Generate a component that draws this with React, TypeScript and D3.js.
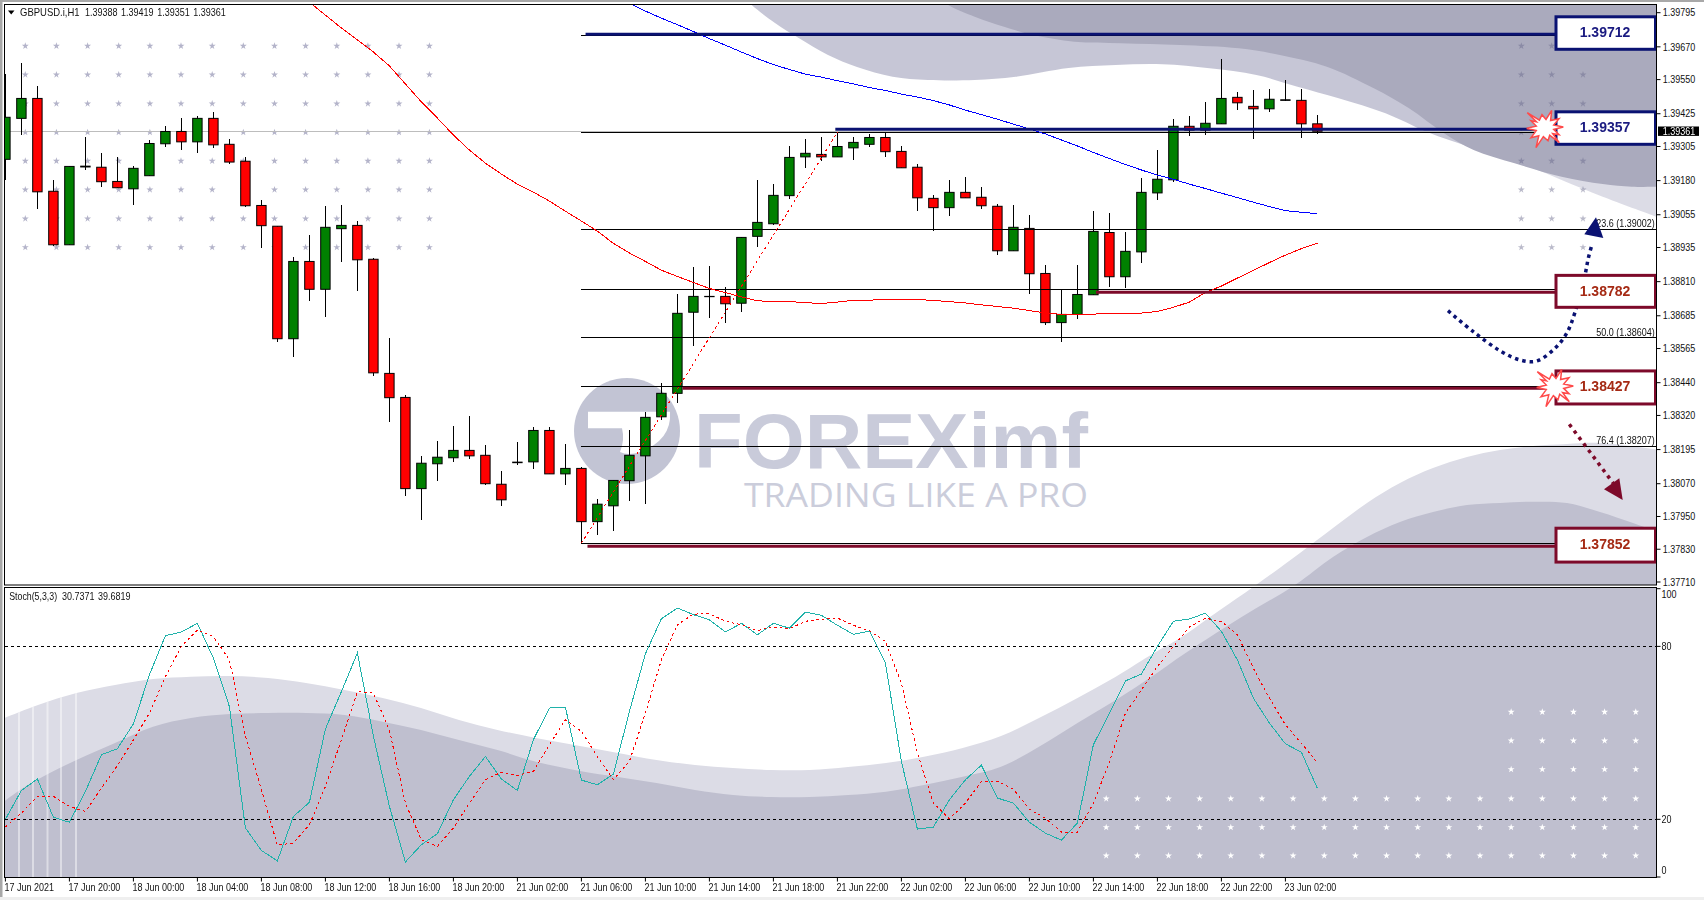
import React from 'react';
import * as d3 from 'd3';

const opens = [1.39258,1.39408,1.39481,1.39141,1.38945,1.39233,1.39229,1.39177,1.39150,1.39198,
1.39315,1.39360,1.39322,1.39408,1.39313,1.39251,1.39089,1.39013,1.38601,1.38884,
1.38782,1.39004,1.39016,1.38892,1.38474,1.38386,1.38052,1.38143,1.38165,1.38192,
1.38174,1.38068,1.38149,1.38150,1.38265,1.38106,1.38126,1.37931,1.37989,1.38081,
1.38172,1.38315,1.38401,1.38698,1.38756,1.38756,1.38731,1.38976,1.39022,1.39125,
1.39267,1.39276,1.39267,1.39300,1.39313,1.39338,1.39287,1.39229,1.39115,1.39081,
1.39137,1.39119,1.39086,1.38923,1.39005,1.38840,1.38660,1.38690,1.38762,1.38990,
1.38828,1.38919,1.39135,1.39183,1.39379,1.39365,1.39388,1.39485,1.39452,1.39443,
1.39476,1.39474,1.39388];
const highs = [1.39570,1.39610,1.39526,1.39182,1.39232,1.39340,1.39281,1.39266,1.39232,1.39329,
1.39380,1.39409,1.39415,1.39430,1.39332,1.39266,1.39109,1.39013,1.38900,1.38981,
1.39087,1.39091,1.39032,1.38895,1.38603,1.38395,1.38171,1.38226,1.38281,1.38318,
1.38212,1.38116,1.38223,1.38277,1.38277,1.38215,1.38131,1.38013,1.38082,1.38267,
1.38331,1.38438,1.38765,1.38863,1.38867,1.38790,1.38972,1.39182,1.39167,1.39307,
1.39332,1.39340,1.39358,1.39340,1.39351,1.39358,1.39307,1.39241,1.39127,1.39182,
1.39193,1.39156,1.39094,1.39091,1.39054,1.38871,1.38782,1.38871,1.39068,1.39061,
1.38992,1.39189,1.39292,1.39405,1.39416,1.39468,1.39625,1.39504,1.39512,1.39515,
1.39548,1.39515,1.39419];
const lows = [1.39182,1.39347,1.39076,1.38941,1.38945,1.39219,1.39156,1.39153,1.39091,1.39198,
1.39303,1.39292,1.39281,1.39299,1.39241,1.39083,1.38933,1.38590,1.38534,1.38739,
1.38681,1.38883,1.38777,1.38464,1.38296,1.38025,1.37937,1.38080,1.38149,1.38160,
1.38065,1.37988,1.38138,1.38124,1.38106,1.38065,1.37852,1.37882,1.37897,1.38008,
1.37996,1.38303,1.38367,1.38574,1.38677,1.38657,1.38700,1.38938,1.39018,1.39114,
1.39226,1.39253,1.39267,1.39255,1.39303,1.39266,1.39227,1.39068,1.38996,1.39050,
1.39117,1.39077,1.38907,1.38923,1.38765,1.38651,1.38590,1.38673,1.38762,1.38790,
1.38786,1.38878,1.39109,1.39175,1.39343,1.39347,1.39388,1.39438,1.39332,1.39431,
1.39472,1.39336,1.39351];
const closes = [1.39412,1.39481,1.39139,1.38945,1.39232,1.39230,1.39176,1.39154,1.39225,1.39316,
1.39360,1.39322,1.39408,1.39311,1.39248,1.39088,1.39015,1.38601,1.38884,1.38782,
1.39009,1.39016,1.38890,1.38476,1.38385,1.38052,1.38145,1.38167,1.38192,1.38172,
1.38070,1.38011,1.38147,1.38265,1.38106,1.38126,1.37931,1.37995,1.38082,1.38174,
1.38313,1.38401,1.38694,1.38756,1.38755,1.38729,1.38972,1.39027,1.39126,1.39265,
1.39280,1.39267,1.39305,1.39320,1.39338,1.39286,1.39227,1.39117,1.39081,1.39137,
1.39117,1.39088,1.38923,1.39009,1.38839,1.38660,1.38690,1.38763,1.38994,1.38828,
1.38921,1.39137,1.39185,1.39379,1.39365,1.39390,1.39481,1.39465,1.39443,1.39478,
1.39474,1.39388,1.39361];

const redMAStart = 19;
const redMA = [1.39834,1.39786,1.39739,1.39695,1.39651,1.39600,1.39534,1.39468,1.39409,1.39347,
1.39292,1.39244,1.39204,1.39167,1.39138,1.39105,1.39068,1.39032,1.38995,1.38950,
1.38915,1.38884,1.38852,1.38829,1.38807,1.38785,1.38770,1.38754,1.38740,1.38737,
1.38737,1.38733,1.38730,1.38735,1.38742,1.38742,1.38745,1.38745,1.38745,1.38741,
1.38737,1.38732,1.38725,1.38719,1.38713,1.38704,1.38695,1.38690,1.38690,1.38691,
1.38694,1.38694,1.38695,1.38701,1.38716,1.38735,1.38770,1.38794,1.38823,1.38851,
1.38880,1.38907,1.38931,1.38951];
const blueMAStart = 39;
const blueMA = [1.39830,1.39801,1.39775,1.39751,1.39726,1.39700,1.39676,1.39651,1.39627,1.39605,
1.39587,1.39570,1.39559,1.39546,1.39534,1.39521,1.39510,1.39497,1.39486,1.39473,
1.39457,1.39438,1.39422,1.39405,1.39387,1.39369,1.39351,1.39329,1.39307,1.39283,
1.39261,1.39239,1.39219,1.39200,1.39185,1.39167,1.39151,1.39134,1.39118,1.39101,
1.39085,1.39070,1.39064,1.39059];

const stochK = [20,30,34,20.7,19,29.7,42.4,44.5,53.1,70.1,83.7,85,88,75.9,59.1,17,9.2,5.6,21,25.9,
51.3,64.3,77.7,48.8,24.5,5.2,11.2,15,26.8,34.9,41.8,34,30,47.6,58.6,58.9,33.6,32,35.7,57.4,
77.4,89.6,93.3,91,89.2,85,88,84,88,86.3,91.9,90.8,87.3,84.2,85.3,74.2,40.1,16.6,17.3,26.8,
33.7,38.8,27.4,25.6,19,15.2,12.8,18.7,45.9,56.8,68,70.4,80,88.7,89.5,91.5,85.2,75.3,62,53.4,
46.2,43.3,30.7371];
const stochD = [17.3,22.2,28,28,24.5,22.7,30.8,38.6,47.6,56.8,69.5,80,85.7,83.4,75.3,48.8,30.3,11,11.8,18.1,
31.4,47.6,64.3,63.8,51,25.6,12.9,10.6,17,25.6,33.7,36.4,35.2,36.6,45.9,54.5,50.5,41.8,33.7,40.1,
56.8,75.3,87.5,91.2,91.3,88.7,87.5,85.5,86.7,86.1,88.7,89.4,89.8,87.3,85.4,81.7,67.2,43,25.6,20.2,
25.6,33.1,33.2,30.5,23.5,20.4,15.6,15.6,25.6,40,56.8,64.9,73,80,86.7,89.8,88.6,84,72.4,62,
52.8,46.4,39.6819];

const priceTicks = [1.39795,1.3967,1.3955,1.39425,1.39305,1.3918,1.39055,1.38935,1.3881,1.38685,1.38565,1.3844,1.3832,1.38195,1.3807,1.3795,1.3783,1.3771];
const stochTicks = [100,80,20,0];
const timeLabels = ['17 Jun 2021','17 Jun 20:00','18 Jun 00:00','18 Jun 04:00','18 Jun 08:00','18 Jun 12:00','18 Jun 16:00','18 Jun 20:00','21 Jun 02:00','21 Jun 06:00','21 Jun 10:00','21 Jun 14:00','21 Jun 18:00','21 Jun 22:00','22 Jun 02:00','22 Jun 06:00','22 Jun 10:00','22 Jun 14:00','22 Jun 18:00','22 Jun 22:00','23 Jun 02:00'];

const fibStartBar = 36, fibEndBar = 52;
const fibLevels = [1.39712,1.39357,1.39002,1.38782,1.38604,1.38427,1.38207,1.37852];
const fibTexts = [['23.6 (1.39002)',1.39002],['50.0 (1.38604)',1.38604],['76.4 (1.38207)',1.38207]] as [string,number][];
const thickPrices = [1.39716,1.39368,1.38771,1.3842,1.37841];
const thickStarts = [36.26,51.87,68.16,42.33,36.38];
const thickGroup = ['b','b','r','r','r'];
const boxLabels = ['1.39712','1.39357','1.38782','1.38427','1.37852'];
const boxTops = [1.39780,1.39432,1.38833,1.38483,1.37907];
const boxBottoms = [1.39661,1.39313,1.38716,1.38362,1.37783];
const boxTextPrices = [1.39725,1.39377,1.38777,1.38427,1.37849];

const topLightEdge = [[745,-2],[751.7,5],[775,23],[798.7,38],[828,55],[857,67],[892.6,76.7],[927.8,80],[974.7,80],[1015.8,76.7],[1068.6,68],[1115.6,65],[1162.5,64.3],[1209.5,68.3],[1256.4,75],[1297.5,86.7],[1338.6,98.3],[1385.5,113.3],[1426.6,131.7],[1473.6,148.3],[1520.5,163.3],[1561.6,180],[1602.7,196.7],[1660,218]];
const topDarkEdge = [[940,-2],[948.3,5],[974.7,16.7],[1004,26.7],[1033.4,35],[1074.5,41.7],[1121.5,43.3],[1180,45],[1238.8,48.3],[1279.9,55],[1326.8,66.7],[1373.8,88.3],[1409,108.3],[1444,133.3],[1473.6,150],[1514.6,163.3],[1561.6,176.7],[1602.7,184],[1632,186.7],[1660,186.7]];
const lowLightEdge = [[2,719],[38,705],[76.5,693],[115,685],[153,679],[191,676.7],[229.6,676],[268,678],[306,683],[344.4,690],[382.7,698],[421,708],[459,720],[497.5,730],[535.8,738],[580,746],[618,753],[656.5,760],[695,765],[733,768],[771,770],[809.6,770],[848,767],[886,763],[924,756.7],[962.7,748],[1001,736],[1039,718],[1077.5,698],[1115.8,676.7],[1154,653],[1180,638],[1220,610],[1256,585],[1300,553],[1333,528],[1367,503],[1400,483],[1433,468],[1467,457],[1500,450],[1533,446],[1567,444],[1600,443],[1660,450]];
const lowDarkEdge = [[2,803],[23,788],[46,775],[76.5,760],[115,743],[153,726.7],[191,718],[229.6,714],[268,713],[306,713],[344.4,715],[382.7,721.7],[421,730],[459,740],[497.5,750],[535.8,761.7],[580,771],[618,777],[656.5,783],[695,790],[733,795],[771,797],[809.6,797],[848,795],[886,791.7],[924,785],[962.7,776.7],[1001,766.7],[1039,746.7],[1077.5,723],[1115.8,700],[1154,675],[1180,656.7],[1240,618],[1295,585],[1333,557],[1367,537],[1400,522],[1433,512],[1467,505],[1500,503],[1533,501.7],[1567,503],[1600,512],[1633,523],[1660,533]];
const stripeXs = [19,33,47.5,61,76];
const leftDotXs = [25.3,56.4,87.6,118.7,149.9,181,212.2,243.3,274.5,305.6,336.8,367.9,399,429.4];
const mainDotYs = [46,74.7,103.7,132.3,161,189.7,218.7,247.3];
const rightDotXs = [1521.3,1551.7,1583];
const whiteDotXs = d3.range(18).map(i => 1106.2 + i * 31.15);
const whiteDotYs = [798.7,827.3,855.7];
const whiteDotUpperYs = [712,740.7,769.4];

const blueArrowPts = [[1448,310.7],[1473.3,331.7],[1500,350.7],[1520,360],[1536.7,361],[1555,348.3],[1566.7,333.3],[1575,312.3],[1585,275],[1588.3,258.3],[1592.3,243.3]];
const blueHead = [[1596,217.3],[1584.3,234.3],[1603.3,238]];
const redArrowPts = [[1569.3,424.3],[1613.3,483.3]];
const redHead = [[1622.7,500],[1604,489.3],[1619.3,478.3]];
const starCentres = [[1545,127.7],[1555,386.7]];
const starSpikes = [[-17.7,-15],[-3,-13],[6.7,-17.3],[14,-9],[18.3,-0.7],[14,7],[14.3,15],[3,13],[-9,20],[-14,10],[-18.3,0.7],[-14,-7]];

const LEFT = 4.5, RIGHT = 1656.5, M_TOP = 4.5, M_BOT = 585, S_TOP = 587.5, S_BOT = 877.5;
const NAVY = '#0a1272', WINE = '#7d0a2a';
const x = d3.scaleLinear().domain([0, 82]).range([5.4, 1317.4]);
const y = d3.scaleLinear().domain([1.3771, 1.39795]).range([582, 12.7]);
const ys = d3.scaleLinear().domain([0, 100]).range([877, 588.7]);

const T = ({ px, py, children, fill = '#111', size = 10, anchor = 'start', sx = 0.9, weight = 'normal', family = "'Liberation Sans', Arial, sans-serif" }: any) => (
  <text transform={`translate(${px},${py}) scale(${sx},1)`} fontFamily={family} fontSize={size} fill={fill} textAnchor={anchor} fontWeight={weight} dominantBaseline="central">{children}</text>
);

const lineOf = (vals: number[], start: number, sc: any) =>
  d3.line<number>().x((_, i) => x(i + start)).y(v => sc(v))(vals) as string;
const smooth = d3.line().curve(d3.curveCatmullRom.alpha(0.5));
const poly = (p: number[][]) => 'M' + p.map(q => q.join(',')).join('L') + 'Z';
const starPath = d3.symbol().type(d3.symbolStar);
const regionTop = (e: number[][]) => (smooth(e as any) as string) + `L1660,-2L${e[0][0]},-2Z`;
const regionBottom = (e: number[][]) => (smooth(e as any) as string) + `L1660,${S_BOT}L2,${S_BOT}Z`;

const burst = (c: number[]) => {
  const pts: number[][] = [];
  starSpikes.forEach((s, i) => {
    const n = starSpikes[(i + 1) % starSpikes.length];
    pts.push([c[0] + s[0], c[1] + s[1]]);
    pts.push([c[0] + (s[0] + n[0]) * 0.27, c[1] + (s[1] + n[1]) * 0.27]);
  });
  return poly(pts);
};

export default function App() {
  const dot = starPath.size(15)() as string;
  return (
    <svg width={1704} height={900} viewBox="0 0 1704 900" style={{ position: 'absolute', left: 0, top: 0, display: 'block' }}>
      <defs>
        <clipPath id="mainClip"><rect x={LEFT} y={M_TOP} width={RIGHT - LEFT} height={M_BOT - M_TOP} /></clipPath>
        <clipPath id="stochClip"><rect x={LEFT} y={S_TOP} width={RIGHT - LEFT} height={S_BOT - S_TOP} /></clipPath>
        <clipPath id="lowClip"><path d={regionBottom(lowLightEdge)} /></clipPath>
        <filter id="soft" x="-5%" y="-5%" width="110%" height="110%"><feGaussianBlur stdDeviation="0.6" /></filter>
        <linearGradient id="topBand" gradientUnits="userSpaceOnUse" x1={1450} y1={0} x2={1500} y2={0}>
          <stop offset="0" stopColor="#c6c6d6" /><stop offset="1" stopColor="#dcdce6" />
        </linearGradient>
      </defs>
      <rect width={1704} height={900} fill="#fff" />
      <rect x={0} y={0} width={1704} height={2} fill="#a8a8a8" />
      <rect x={0} y={0} width={2.5} height={900} fill="#a8a8a8" />
      <rect x={0} y={897} width={1704} height={3} fill="#efefef" />

      {/* background artwork */}
      <g clipPath="url(#mainClip)">
        <path d={regionTop(topLightEdge)} fill="url(#topBand)" />
        <path d={regionTop(topDarkEdge)} fill="#aaaabd" />
        <path d={regionBottom(lowLightEdge)} fill="#dcdce6" />
        <path d={regionBottom(lowDarkEdge)} fill="#bfbfcf" />
        <g filter="url(#soft)">
          {mainDotYs.flatMap(dy => leftDotXs.map(dx => (
            <path key={`l${dx}-${dy}`} d={dot} transform={`translate(${dx},${dy})`} fill="#b4b4ca" />
          )))}
          {mainDotYs.flatMap(dy => rightDotXs.map(dx => (
            <path key={`r${dx}-${dy}`} d={dot} transform={`translate(${dx},${dy})`} fill="#66668a" opacity={0.45} />
          )))}
        </g>
        <circle cx={627} cy={431} r={53} fill="#c2c4d4" />
        <path d="M588,411.7L670,411.7Q672,440 640,452Q628,456 620,452Q625,440 622,428.3L588,428.3Z" fill="#fff" />
        <text x={694} y={468.3} fontFamily="'Liberation Sans', Arial, sans-serif" fontWeight="bold" fontSize={78} fill="#c9cbda" textLength={394} lengthAdjust="spacingAndGlyphs">FOREXimf</text>
        <text x={744} y={507.3} fontFamily="'Open Sans', 'Liberation Sans', sans-serif" fontSize={33} fill="#cbcddb" textLength={344} lengthAdjust="spacingAndGlyphs">TRADING LIKE A PRO</text>
      </g>
      <g clipPath="url(#stochClip)">
        <path d={regionBottom(lowLightEdge)} fill="#dcdce6" />
        <path d={regionBottom(lowDarkEdge)} fill="#bfbfcf" />
        <g clipPath="url(#lowClip)">
          {stripeXs.map(sx => <rect key={sx} x={sx - 1} y={640} width={2} height={240} fill="#fff" opacity={0.45} />)}
        </g>
        <g filter="url(#soft)">
          {whiteDotYs.flatMap(dy => whiteDotXs.map(dx => (
            <path key={`w${dx}-${dy}`} d={dot} transform={`translate(${dx},${dy})`} fill="#fff" />
          )))}
          {whiteDotUpperYs.flatMap(dy => whiteDotXs.slice(13).map(dx => (
            <path key={`u${dx}-${dy}`} d={dot} transform={`translate(${dx},${dy})`} fill="#fff" />
          )))}
        </g>
      </g>

      {/* main pane */}
      <g clipPath="url(#mainClip)">
        <line x1={LEFT} x2={RIGHT} y1={y(closes[82])} y2={y(closes[82])} stroke="#bdbdbd" shapeRendering="crispEdges" />
        {opens.map((o, i) => {
          const c = closes[i], cx = x(i);
          const doji = Math.abs(c - o) < 0.00005;
          const top = y(Math.max(o, c)), bot = y(Math.min(o, c));
          return (
            <g key={i}>
              <line x1={cx} x2={cx} y1={y(highs[i])} y2={y(lows[i])} stroke="#000" strokeWidth={1} shapeRendering="crispEdges" />
              <rect x={cx - 4.7} y={top} width={9.4} height={Math.max(bot - top, 0.2)} fill={doji ? '#000' : c > o ? '#008000' : '#ff0000'} stroke="#000" strokeWidth={1} />
            </g>
          );
        })}
        {fibLevels.map(l => <line key={l} x1={x(fibStartBar) - 0.4} x2={RIGHT} y1={y(l)} y2={y(l)} stroke="#000" strokeWidth={1} shapeRendering="crispEdges" />)}
        <line x1={x(fibStartBar)} y1={y(1.37852)} x2={x(fibEndBar)} y2={y(1.39357)} stroke="#ff0000" strokeWidth={1} strokeDasharray="2.5 3" shapeRendering="crispEdges" />
        <path d={lineOf(redMA, redMAStart, y)} fill="none" stroke="#ff0000" strokeWidth={1} shapeRendering="crispEdges" />
        <path d={lineOf(blueMA, blueMAStart, y)} fill="none" stroke="#0000ff" strokeWidth={1} shapeRendering="crispEdges" />
        {thickPrices.map((p, i) => (
          <line key={p} x1={x(thickStarts[i])} x2={1558} y1={y(p)} y2={y(p)} stroke={thickGroup[i] === 'b' ? NAVY : WINE} strokeWidth={3} />
        ))}
        {fibTexts.map(([t, p]) => <T key={t} px={1654.7} py={y(p) - 6} anchor="end">{t}</T>)}
        <path d={smooth(blueArrowPts as any) as string} fill="none" stroke={NAVY} strokeWidth={3.5} strokeDasharray="3.5 4" />
        <path d={poly(blueHead)} fill={NAVY} />
        <path d={smooth(redArrowPts as any) as string} fill="none" stroke={WINE} strokeWidth={3.5} strokeDasharray="3.5 4.5" />
        <path d={poly(redHead)} fill={WINE} />
        {boxLabels.map((t, i) => {
          const b = thickGroup[i] === 'b';
          const t0 = y(boxTops[i]), t1 = y(boxBottoms[i]);
          return (
            <g key={t}>
              <rect x={1556} y={t0} width={99.5} height={t1 - t0} fill="#fff" stroke={b ? NAVY : WINE} strokeWidth={3} />
              <text x={1605} y={y(boxTextPrices[i])} textAnchor="middle" dominantBaseline="central" fontFamily="'Liberation Sans', Arial, sans-serif" fontWeight="bold" fontSize={14} fill={b ? '#1a1a80' : '#a52a14'}>{t}</text>
            </g>
          );
        })}
        {starCentres.map(c => <path key={c[0]} d={burst(c)} fill="#fff" stroke="#ff4a4a" strokeWidth={1.5} />)}
      </g>

      {/* stochastic pane */}
      <g clipPath="url(#stochClip)">
        {[80, 20].map(v => <line key={v} x1={LEFT} x2={RIGHT} y1={ys(v)} y2={ys(v)} stroke="#000" strokeWidth={1} strokeDasharray="3 3" shapeRendering="crispEdges" />)}
        <path d={lineOf(stochK, 0, ys)} fill="none" stroke="#20b2aa" strokeWidth={1} shapeRendering="crispEdges" />
        <path d={lineOf(stochD, 0, ys)} fill="none" stroke="#ff0000" strokeWidth={1} strokeDasharray="2.5 3" shapeRendering="crispEdges" />
      </g>

      {/* frames */}
      <rect x={LEFT} y={M_TOP} width={RIGHT - LEFT} height={M_BOT - M_TOP} fill="none" stroke="#000" />
      <rect x={LEFT} y={S_TOP} width={RIGHT - LEFT} height={S_BOT - S_TOP} fill="none" stroke="#000" />

      {/* legends */}
      <path d="M8,10.5L14.5,10.5L11.2,14.5Z" fill="#000" />
      <T px={20} py={12.7} sx={0.95}>GBPUSD.i,H1</T>
      {[opens[82], highs[82], lows[82], closes[82]].map((v, i) => <T key={i} px={85 + i * 36.1} py={12.7}>{v.toFixed(5)}</T>)}
      <T px={9.2} py={596.7} sx={0.88}>Stoch(5,3,3)</T>
      <T px={62} py={596.7} sx={0.9}>{stochK[82].toFixed(4)}</T>
      <T px={98} py={596.7} sx={0.9}>{stochD[82].toFixed(4)}</T>

      {/* axes */}
      {priceTicks.map(p => (
        <g key={p}>
          <line x1={RIGHT} x2={RIGHT + 4} y1={y(p)} y2={y(p)} stroke="#000" />
          <T px={1662.7} py={y(p)}>{p.toFixed(5)}</T>
        </g>
      ))}
      <rect x={1658} y={y(closes[82]) - 4.7} width={41} height={9.4} fill="#000" />
      <T px={1662.7} py={y(closes[82])} fill="#fff">{closes[82].toFixed(5)}</T>
      {stochTicks.map(v => (
        <g key={v}>
          <line x1={RIGHT} x2={RIGHT + 4} y1={ys(v)} y2={ys(v)} stroke="#000" />
          <T px={1661.5} py={ys(v) + (v === 100 ? 5.5 : v === 0 ? -6.5 : 0.3)}>{v}</T>
        </g>
      ))}
      {timeLabels.map((t, i) => (
        <g key={t}>
          <line x1={x(i * 4)} x2={x(i * 4)} y1={S_BOT} y2={S_BOT + 4} stroke="#000" />
          <T px={x(i * 4) - 1} py={887}>{t}</T>
        </g>
      ))}
    </svg>
  );
}
